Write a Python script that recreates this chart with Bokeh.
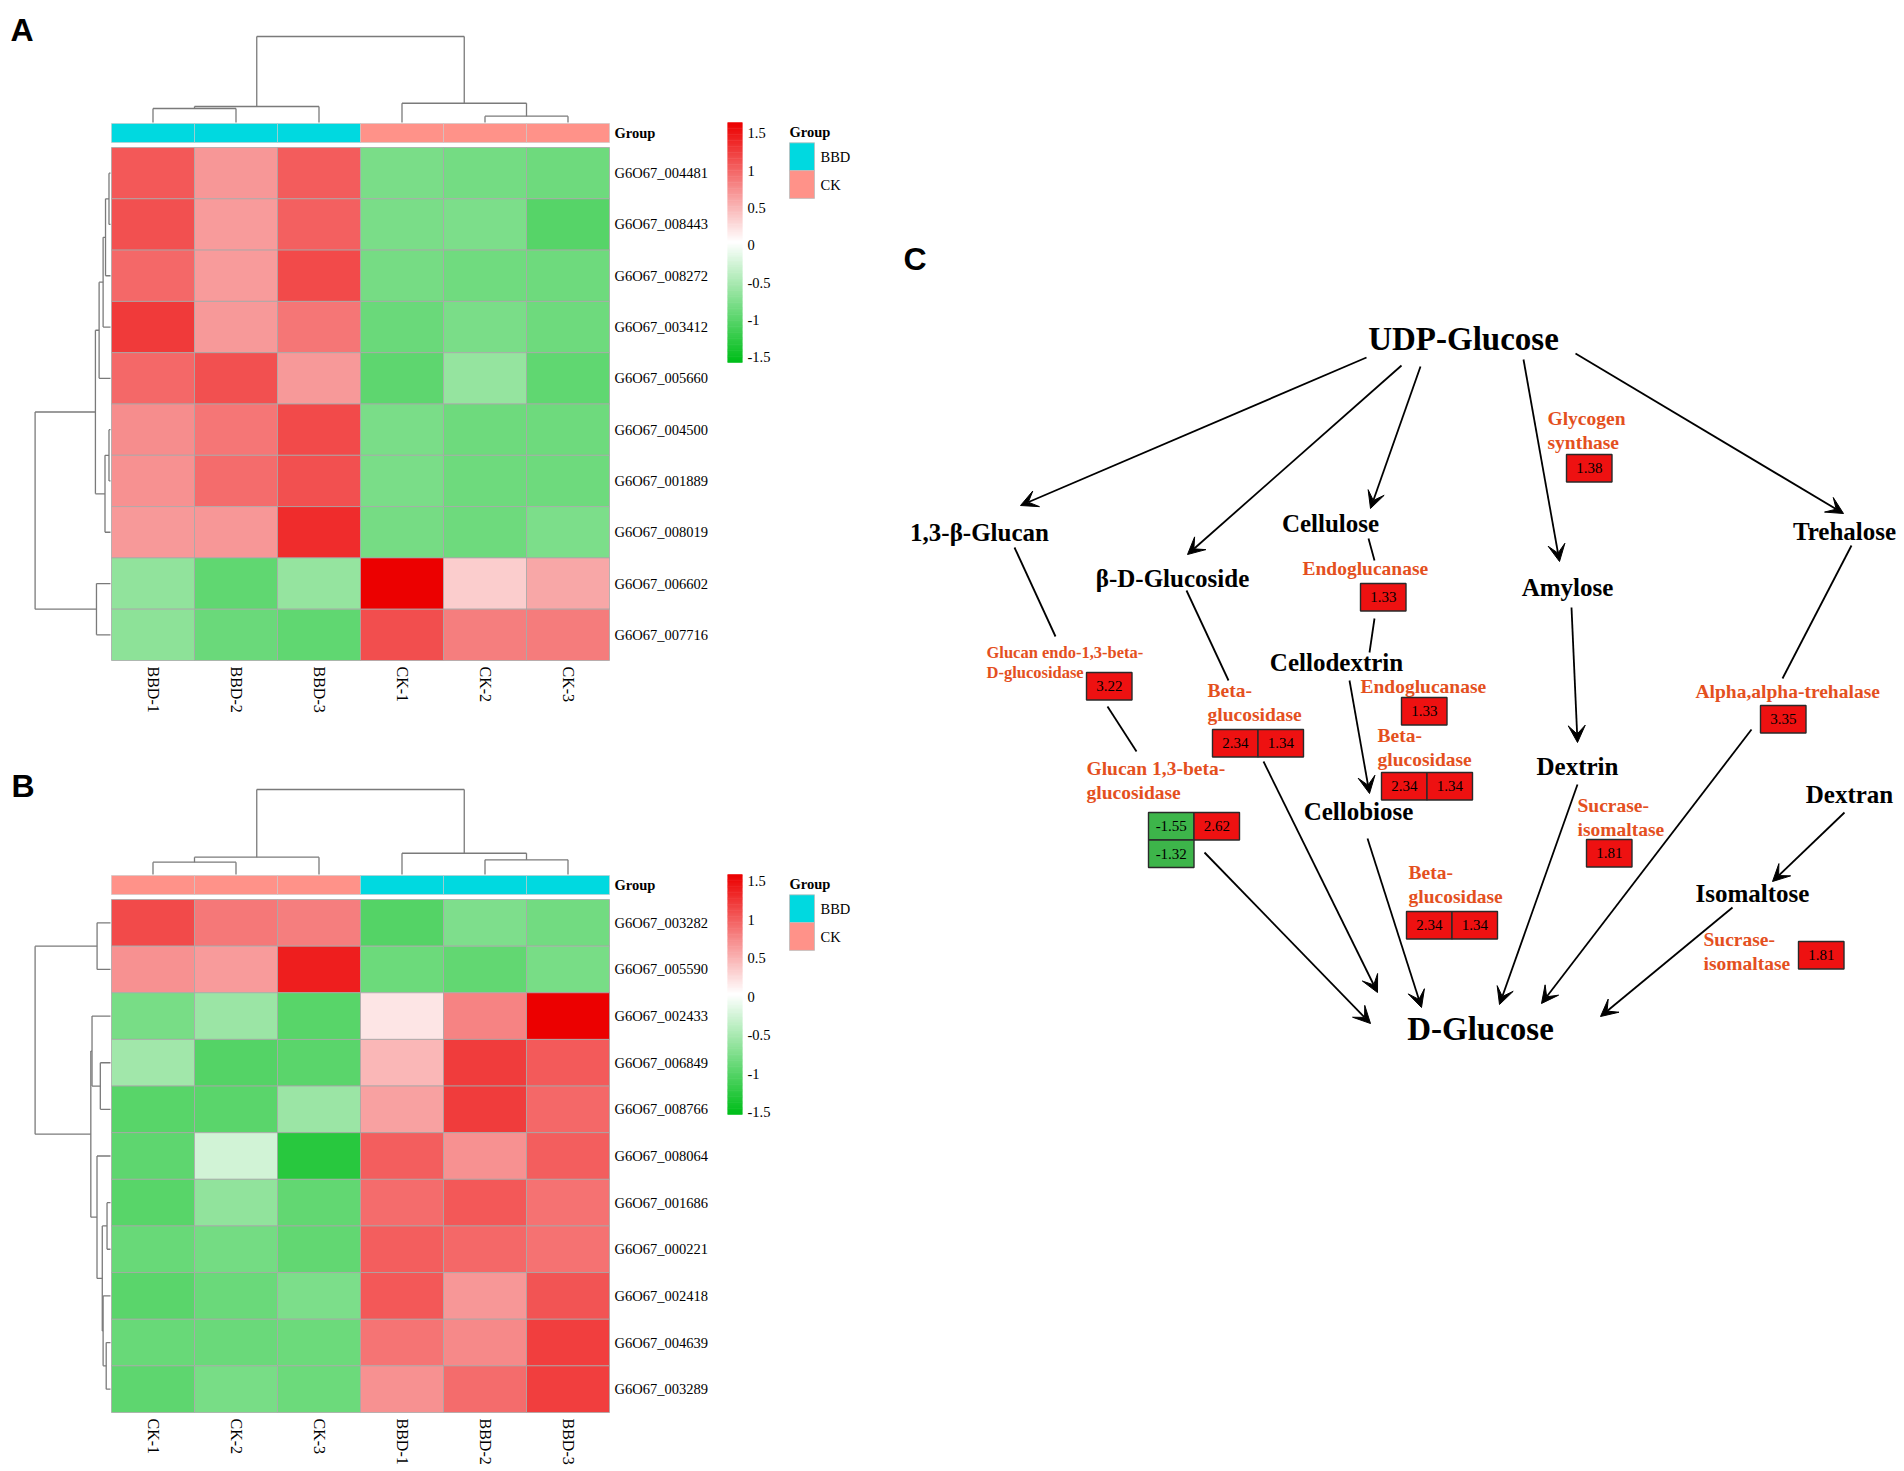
import numpy as np
from bokeh.plotting import figure
from bokeh.models import Range1d, ColumnDataSource, Arrow, VeeHead
from bokeh.transform import linear_cmap, factor_cmap
from bokeh.core.properties import value
from bokeh.embed import file_html
from bokeh.resources import INLINE

# ======================= DATA =======================
# ---- Heatmap A ----
a_cols = ["BBD-1", "BBD-2", "BBD-3", "CK-1", "CK-2", "CK-3"]
a_groups = ["BBD", "BBD", "BBD", "CK", "CK", "CK"]
a_rows = ["G6O67_004481", "G6O67_008443", "G6O67_008272", "G6O67_003412", "G6O67_005660",
          "G6O67_004500", "G6O67_001889", "G6O67_008019", "G6O67_006602", "G6O67_007716"]
a_vals = [
    [1.09, 0.69, 1.06, -0.80, -0.84, -0.88],
    [1.14, 0.67, 1.04, -0.80, -0.79, -1.03],
    [0.98, 0.67, 1.17, -0.83, -0.86, -0.88],
    [1.27, 0.68, 0.89, -0.90, -0.80, -0.88],
    [0.98, 1.13, 0.68, -0.98, -0.64, -0.96],
    [0.76, 0.90, 1.17, -0.80, -0.87, -0.87],
    [0.73, 0.96, 1.14, -0.80, -0.87, -0.88],
    [0.68, 0.69, 1.36, -0.83, -0.87, -0.79],
    [-0.66, -0.96, -0.64, 1.64, 0.35, 0.60],
    [-0.68, -0.90, -0.96, 1.15, 0.84, 0.86],
]
a_range = (-1.571, 1.643)
# row / column clustering (child, child, relative height)
a_row_merges = [(0, 1, 0.02), (10, 2, 0.066), (11, 3, 0.098), (12, 4, 0.151), (5, 6, 0.02),
                (14, 7, 0.073), (13, 15, 0.20), (8, 9, 0.186), (16, 17, 1.0)]
a_col_merges = [(0, 1, 0.163), (6, 2, 0.186), (4, 5, 0.073), (3, 8, 0.224), (7, 9, 1.0)]

# ---- Heatmap B ----
b_cols = ["CK-1", "CK-2", "CK-3", "BBD-1", "BBD-2", "BBD-3"]
b_groups = ["CK", "CK", "CK", "BBD", "BBD", "BBD"]
b_rows = ["G6O67_003282", "G6O67_005590", "G6O67_002433", "G6O67_006849", "G6O67_008766",
          "G6O67_008064", "G6O67_001686", "G6O67_000221", "G6O67_002418", "G6O67_004639",
          "G6O67_003289"]
b_vals = [
    [1.13, 0.85, 0.81, -1.01, -0.75, -0.83],
    [0.70, 0.65, 1.40, -0.86, -0.92, -0.79],
    [-0.79, -0.58, -0.98, 0.19, 0.79, 1.59],
    [-0.55, -1.01, -0.97, 0.48, 1.22, 1.03],
    [-0.98, -0.97, -0.58, 0.61, 1.22, 0.95],
    [-0.95, -0.25, -1.28, 1.01, 0.70, 1.01],
    [-0.99, -0.64, -0.93, 0.93, 1.05, 0.89],
    [-0.89, -0.82, -0.93, 1.01, 0.95, 0.89],
    [-0.97, -0.87, -0.77, 1.04, 0.67, 1.07],
    [-0.89, -0.87, -0.86, 0.87, 0.76, 1.20],
    [-0.95, -0.79, -0.86, 0.70, 0.92, 1.20],
]
b_range = (-1.526, 1.587)
b_row_merges = [(0, 1, 0.178), (3, 4, 0.135), (2, 12, 0.245), (6, 7, 0.046), (9, 10, 0.057),
                (8, 15, 0.098), (14, 16, 0.109), (5, 17, 0.179), (13, 18, 0.261), (11, 19, 1.0)]
b_col_merges = [(0, 1, 0.145), (6, 2, 0.2035), (4, 5, 0.173), (3, 8, 0.25), (7, 9, 1.0)]

cb_ticks = [1.5, 1, 0.5, 0, -0.5, -1, -1.5]
cb_tick_labels = ["1.5", "1", "0.5", "0", "-0.5", "-1", "-1.5"]
legend_groups = ["BBD", "CK"]
group_colors = ["#00D9E0", "#FF9289"]

# ---- Panel C: pathway ----
node_names = ["UDP-Glucose", "1,3-\u03b2-Glucan", "\u03b2-D-Glucoside", "Cellulose", "Amylose",
              "Trehalose", "Cellodextrin", "Cellobiose", "Dextrin", "Dextran", "Isomaltose",
              "D-Glucose"]
enzyme_labels = [
    ["Glycogen", "synthase"],
    ["Endoglucanase"],
    ["Glucan endo-1,3-beta-", "D-glucosidase"],
    ["Beta-", "glucosidase"],
    ["Endoglucanase"],
    ["Beta-", "glucosidase"],
    ["Glucan 1,3-beta-", "glucosidase"],
    ["Alpha,alpha-trehalase"],
    ["Sucrase-", "isomaltase"],
    ["Beta-", "glucosidase"],
    ["Sucrase-", "isomaltase"],
]
enzyme_fc = [
    [1.38], [1.33], [3.22], [2.34, 1.34], [1.33], [2.34, 1.34],
    [-1.55, 2.62, -1.32], [3.35], [1.81], [2.34, 1.34], [1.81],
]

# ======================= LAYOUT / STYLE =======================
W, H = 1900, 1468
SERIF = value("Liberation Serif")
SANS = value("Liberation Sans")

HM_LEFT, HM_W, HM_H = 111.0, 498.0, 513.0
CB_X0, CB_X1, CB_H = 727.0, 742.0, 240.0
LEG_X = 789.0

node_layout = {  # center x, center y, font px
    "UDP-Glucose": (1463, 338, 33), "1,3-\u03b2-Glucan": (979, 532, 25),
    "\u03b2-D-Glucoside": (1172, 578, 25), "Cellulose": (1330, 523, 25),
    "Amylose": (1567, 587, 25), "Trehalose": (1844, 531, 25),
    "Cellodextrin": (1336, 662, 25), "Cellobiose": (1358, 811, 25),
    "Dextrin": (1577, 766, 25), "Dextran": (1849, 794, 25),
    "Isomaltose": (1752, 893, 25), "D-Glucose": (1480, 1028, 33),
}
# label left x, first line y, font px, box left x, box top y
enzyme_layout = [
    (1547, 418, 19.5, 1566, 454),
    (1302, 568, 19.5, 1360, 583),
    (986, 652, 16.5, 1086, 672),
    (1207, 690, 19.5, 1212, 729),
    (1360, 686, 19.5, 1401, 697),
    (1377, 735, 19.5, 1381, 772),
    (1086, 767.5, 19.5, 1148, 812),
    (1695, 690.5, 19.5, 1760, 705),
    (1577, 805, 19.5, 1586, 839),
    (1408, 872, 19.5, 1406, 911),
    (1703, 939, 19.5, 1798, 941),
]
LINE_GAP = 24
BOX_W, BOX_H = 45.5, 27.5
plain_links = [  # x0, y0, x1, y1
    (1368, 538, 1374, 560), (1374, 618, 1369, 652), (1014, 547, 1055, 636),
    (1107, 706, 1136, 751), (1186, 590, 1228, 680), (1851, 545, 1782, 678),
]
arrow_links = [
    (1366, 357, 1020, 505), (1401, 365, 1187, 554), (1420, 366, 1370, 508),
    (1523, 359, 1559, 561), (1575, 353, 1843, 513), (1204, 852, 1370, 1023),
    (1263, 761, 1377, 992), (1349, 680, 1369, 793), (1367, 838, 1421, 1007),
    (1571, 607, 1577, 742), (1577, 784, 1499, 1004), (1751, 729, 1541, 1003),
    (1844, 812, 1772, 881), (1732, 907, 1600, 1016),
]
ENZ_COLOR = "#E4501E"


def ramp(c0, c1, n):
    out = []
    for t in np.linspace(0, 1, n):
        c = [int(round(c0[k] + (c1[k] - c0[k]) * t)) for k in range(3)]
        out.append("#%02x%02x%02x" % tuple(c))
    return out


PAL = ramp((0, 190, 26), (255, 255, 255), 128) + ramp((255, 255, 255), (236, 0, 0), 128)

p = figure(width=W, height=H, x_range=Range1d(0, W), y_range=Range1d(H, 0),
           output_backend="svg", toolbar_location=None, min_border=0,
           x_axis_type=None, y_axis_type=None)
p.grid.visible = False
p.outline_line_color = None
p.background_fill_color = "white"


def dendro(merges, leaf_pos, base, length, rows):
    pos = list(leaf_pos)
    hts = [0.0] * len(leaf_pos)
    s = dict(x0=[], y0=[], x1=[], y1=[])

    def add(h0, q0, h1, q1):
        a0, a1 = base - h0 * length, base - h1 * length
        if rows:
            s["x0"].append(a0); s["y0"].append(q0); s["x1"].append(a1); s["y1"].append(q1)
        else:
            s["x0"].append(q0); s["y0"].append(a0); s["x1"].append(q1); s["y1"].append(a1)

    for a, b, h in merges:
        add(hts[a], pos[a], h, pos[a])
        add(hts[b], pos[b], h, pos[b])
        add(h, pos[a], h, pos[b])
        pos.append((pos[a] + pos[b]) / 2.0)
        hts.append(h)
    p.segment("x0", "y0", "x1", "y1", source=ColumnDataSource(s), line_color="#7A7A7A",
              line_width=1.3)


def heatmap(vals, rows, cols, groups, rmerges, cmerges, rng, top, col_len):
    nr, nc = len(rows), len(cols)
    cw, ch = HM_W / nc, HM_H / nr
    xc = [HM_LEFT + (j + 0.5) * cw for j in range(nc)]
    yc = [top + (i + 0.5) * ch for i in range(nr)]
    xs, ys, vs = [], [], []
    for i in range(nr):
        for j in range(nc):
            xs.append(xc[j]); ys.append(yc[i]); vs.append(vals[i][j])
    p.rect("x", "y", width=cw, height=ch, source=ColumnDataSource(dict(x=xs, y=ys, v=vs)),
           fill_color=linear_cmap("v", PAL, rng[0], rng[1]), line_color="#A8A8A8",
           line_width=0.8)
    # group annotation bar
    gy = top - 14.5
    p.rect("x", "y", width=cw, height=19, source=ColumnDataSource(dict(x=xc, y=[gy] * nc, g=groups)),
           fill_color=factor_cmap("g", group_colors, legend_groups), line_color="#C8C8C8",
           line_width=0.6)
    rx = HM_LEFT + HM_W + 5
    p.text(x=[rx], y=[gy], text=["Group"], text_font=SERIF, text_font_style="bold",
           text_font_size="14.5px", text_baseline="middle", text_align="left")
    p.text(x=[rx] * nr, y=yc, text=rows, text_font=SERIF, text_font_size="14.5px",
           text_baseline="middle", text_align="left")
    p.text(x=xc, y=[top + HM_H + 6] * nc, text=cols, angle=-np.pi / 2, text_font=SERIF,
           text_font_size="16px", text_baseline="middle", text_align="left")
    # dendrograms
    dendro(rmerges, yc, HM_LEFT - 1, 75.4, True)
    dendro(cmerges, xc, top - 25, col_len, False)
    # colour bar
    lo, hi = rng
    cb_top = top - 25
    n = 200
    cv = np.linspace(hi, lo, n)
    cy = cb_top + (np.arange(n) + 0.5) * CB_H / n
    p.rect(x=(CB_X0 + CB_X1) / 2, y="y", width=CB_X1 - CB_X0, height=CB_H / n + 0.6,
           source=ColumnDataSource(dict(y=cy, v=cv)),
           fill_color=linear_cmap("v", PAL, lo, hi), line_color=None)
    ty = [cb_top + (hi - t) / (hi - lo) * CB_H for t in cb_ticks]
    p.text(x=[CB_X1 + 5] * len(ty), y=ty, text=cb_tick_labels, text_font=SERIF,
           text_font_size="14.5px", text_baseline="middle", text_align="left")
    # legend
    p.text(x=[LEG_X], y=[top - 16], text=["Group"], text_font=SERIF, text_font_style="bold",
           text_font_size="14.5px", text_baseline="middle", text_align="left")
    bh = 27.8
    by = [top - 4.7 + (k + 0.5) * bh for k in range(len(legend_groups))]
    p.rect(x=LEG_X + 12.5, y="y", width=25, height=bh,
           source=ColumnDataSource(dict(y=by, g=legend_groups)),
           fill_color=factor_cmap("g", group_colors, legend_groups), line_color="#BDBDBD",
           line_width=0.8)
    p.text(x=[LEG_X + 31] * len(by), y=by, text=legend_groups, text_font=SERIF,
           text_font_size="14.5px", text_baseline="middle", text_align="left")


heatmap(a_vals, a_rows, a_cols, a_groups, a_row_merges, a_col_merges, a_range, 147.0, 86.0)
heatmap(b_vals, b_rows, b_cols, b_groups, b_row_merges, b_col_merges, b_range, 899.0, 85.0)

# panel letters
p.text(x=[10, 11, 903], y=[29, 785, 258], text=["A", "B", "C"], text_font=SANS,
       text_font_style="bold", text_font_size="32px", text_baseline="middle", text_align="left")

# ---- pathway links ----
pl = dict(x0=[], y0=[], x1=[], y1=[])
for x0, y0, x1, y1 in plain_links:
    pl["x0"].append(x0); pl["y0"].append(y0); pl["x1"].append(x1); pl["y1"].append(y1)
p.segment("x0", "y0", "x1", "y1", source=ColumnDataSource(pl), line_color="black", line_width=1.8)

al = dict(x0=[], y0=[], x1=[], y1=[])
for x0, y0, x1, y1 in arrow_links:
    al["x0"].append(x0); al["y0"].append(y0); al["x1"].append(x1); al["y1"].append(y1)
p.add_layout(Arrow(source=ColumnDataSource(al), x_start="x0", y_start="y0", x_end="x1",
                   y_end="y1", line_color="black", line_width=1.8,
                   end=VeeHead(size=17, fill_color="black", line_color="black", line_width=1)))

# ---- nodes ----
for nm in node_names:
    x, y, fs = node_layout[nm]
    p.text(x=[x], y=[y], text=[nm], text_font=SERIF, text_font_style="bold",
           text_font_size=f"{fs}px", text_baseline="middle", text_align="center",
           text_color="black")

# ---- enzymes & fold-change boxes ----
bx, byy, bcol, btxt = [], [], [], []
for lines, fcs, lay in zip(enzyme_labels, enzyme_fc, enzyme_layout):
    lx, ly, fs, x0, y0 = lay
    p.text(x=[lx] * len(lines), y=[ly + k * LINE_GAP * fs / 19.5 for k in range(len(lines))],
           text=lines, text_font=SERIF, text_font_style="bold", text_font_size=f"{fs}px",
           text_color=ENZ_COLOR, text_baseline="middle", text_align="left")
    for k, v in enumerate(fcs):
        cx = x0 + (k % 2 + 0.5) * BOX_W
        cy = y0 + (k // 2 + 0.5) * BOX_H
        bx.append(cx); byy.append(cy)
        bcol.append("#EE1111" if v > 0 else "#3DB54A")
        btxt.append(f"{v:.2f}")
bsrc = ColumnDataSource(dict(x=bx, y=byy, c=bcol, t=btxt))
p.rect("x", "y", width=BOX_W, height=BOX_H, source=bsrc, fill_color="c", line_color="#2A2A2A",
       line_width=1.4)
p.text("x", "y", text="t", source=bsrc, text_font=SERIF, text_font_size="15px",
       text_baseline="middle", text_align="center", text_color="black")

open("out.html", "w").write(file_html(p, INLINE))
